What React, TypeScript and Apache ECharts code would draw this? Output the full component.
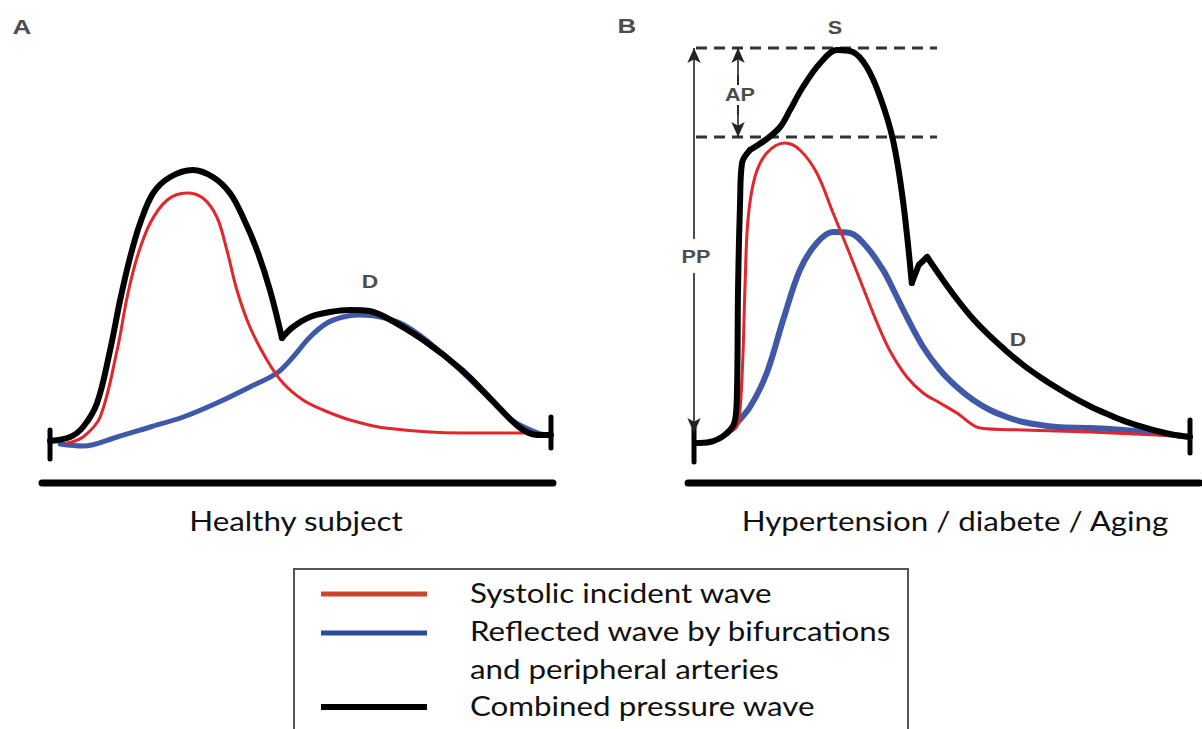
import React, { useEffect, useRef } from "react";
import * as echarts from "echarts";

// x: % of the cardiac cycle, y: pressure (arbitrary units, 0 = diastolic baseline)

// Panel A — healthy subject
const aCombinedSystole: [number, number][] = [
  [0, 1], [4, 2], [6.6, 4.5], [9.4, 10.5], [12, 23.75], [14, 36.25], [16, 47],
  [18, 55.5], [20.6, 63], [24, 67], [28.5, 68.75], [32.5, 67], [35.9, 63], [38.5, 57],
  [41.3, 48.75], [43.9, 38.75], [46.3, 26.75],
];
const aCombinedDiastole: [number, number][] = [
  [46.3, 26.75], [48.5, 29.5], [51.9, 32], [55.9, 33.25], [59.9, 33.75], [63.7, 33.5],
  [66.9, 32], [74.5, 26.25], [82.2, 18.75], [88.2, 11.25], [93.6, 4.5], [97.4, 2.5], [100, 2.5],
];
const aIncident: [number, number][] = [
  [3.5, 0.5], [6.6, 2], [10, 7], [13.4, 23.75], [15.4, 37], [17.4, 47], [20, 55.5],
  [23.4, 61.25], [27.3, 63], [30.5, 61.75], [33.3, 57], [35.3, 48.75], [37.3, 38.75],
  [39.9, 29.5], [43.3, 21.25], [46.5, 15.5], [50.5, 11.25], [54.5, 8.75], [59.9, 6.25],
  [66.9, 4.25], [82.2, 3], [96, 3], [100, 2.5],
];
const aReflected: [number, number][] = [
  [2, 0.25], [6.6, -0.25], [13.4, 2], [20, 4.5], [26.6, 7], [33.3, 10.5], [39.9, 14.5],
  [45.3, 18], [48.5, 22], [51.9, 27], [55.3, 30.5], [58.5, 32], [61.5, 32.5], [64.5, 32.3],
  [70.7, 30], [78.2, 23], [86, 13.75], [92.2, 6.25], [97.4, 3], [100, 2.5],
];
const aEndBars: [number, number][][] = [
  [[0, 3.75], [0, -3.5]],
  [[100, 7], [100, -0.75]],
];
const aBaseline: [number, number][] = [[-1.6, -9.5], [100.4, -9.5]];

// Panel B — hypertension / diabetes / aging
const bCombinedRise: [number, number][] = [
  [0, 0.5], [3, 0.75], [6.5, 3], [8.1, 6.25], [8.5, 14.5], [8.7, 39.5], [9.1, 60.5],
  [9.5, 70.5], [11.1, 73.75],
];
const bCombinedSystole: [number, number][] = [
  [11.1, 73.75], [14.5, 76.5], [17.2, 79.5], [19.2, 83.75], [21.8, 89.5], [25.3, 95.5],
  [28.7, 98.75], [31.9, 98.25], [34.7, 94.5], [37.4, 87], [40, 76.25], [42, 61.25],
  [43.8, 40.5],
];
const bCombinedNotch: [number, number][] = [[43.8, 40.5], [45.2, 45], [46.9, 47]];
const bCombinedDiastole: [number, number][] = [
  [46.9, 47], [49.5, 42.3], [52.9, 36.5], [56.2, 31.5], [59.6, 27.2], [63, 23.4],
  [66.3, 20], [69.7, 17], [73.1, 14.3], [76.4, 11.9], [79.8, 9.7], [83.2, 7.8],
  [86.5, 6.1], [89.9, 4.7], [93.3, 3.5], [96.6, 2.6], [100, 2],
];
const bIncident: [number, number][] = [
  [6.5, 3], [8.4, 4.5], [9.1, 8.75], [9.7, 23], [10.1, 39.5], [10.7, 56.25], [12.1, 67],
  [14.5, 73], [18.2, 75.5], [21.2, 73.75], [24.6, 68], [27.9, 58], [30.7, 49.5],
  [33.9, 39.5], [36.8, 30.5], [39.4, 23.5], [42.8, 17], [46.1, 13], [49.5, 10.5],
  [52.9, 8], [57.6, 4.25], [66.3, 3.75], [79.8, 3.25], [93.3, 2.5], [100, 2],
];
const bReflected: [number, number][] = [
  [6.5, 3], [7.7, 4.5], [11.1, 9.5], [14.5, 18], [17.8, 31.25], [21.2, 43.75],
  [24.6, 50.5], [27.9, 53.25], [31.3, 53], [34.7, 49.5], [38, 43.75], [39.4, 40.5],
  [42.8, 32], [46.1, 24.5], [49.5, 18.75], [52.9, 14.5], [56.2, 11.25], [59.6, 8.75],
  [63, 7], [66.3, 5.75], [73.1, 4.5], [79.8, 4.25], [86.5, 3.75], [93.3, 3], [100, 2],
];
const bEndBars: [number, number][][] = [
  [[-0.2, 4.25], [-0.2, -4.25]],
  [[100, 6.25], [100, -2]],
];
const bBaseline: [number, number][] = [[-1.4, -9.5], [102, -9.5]];
const bSystolicPeak = 99.25;
const bInflection = 77;
const bDashedX: [number, number] = [0.2, 48.9];

const panelTitles = ["Healthy subject", "Hypertension / diabete / Aging"];
const legendLabels = [
  "Systolic incident wave",
  "Reflected wave by bifurcations",
  "and peripheral arteries",
  "Combined pressure wave",
];

const RED = "#e1262c";
const BLUE = "#3f59a8";
const BLACK = "#000000";
const LABEL = "#4d4d4d";

function curve(data: [number, number][], color: string, width: number, idx: number, smooth = 0.35) {
  return {
    type: "line",
    xAxisIndex: idx,
    yAxisIndex: idx,
    data,
    smooth,
    symbol: "none",
    clip: false,
    silent: true,
    lineStyle: { color, width, cap: "round", join: "round" },
  };
}

export default function App() {
  const ref = useRef<HTMLDivElement>(null);
  useEffect(() => {
    if (!ref.current) return;
    const chart = echarts.init(ref.current, null, { renderer: "svg" });
    const lab = (text: string, x: number, y: number, size = 19, sx = 1.2) => ({
      type: "text",
      x,
      y,
      scaleX: sx,
      silent: true,
      style: {
        text,
        fill: LABEL,
        font: `bold ${size}px "Liberation Sans", Arial, sans-serif`,
        align: "center",
        verticalAlign: "middle",
      },
    });
    const big = (text: string, x: number, y: number, align = "center") => ({
      type: "text",
      x,
      y,
      scaleX: 1.16,
      silent: true,
      style: {
        text,
        fill: "#111",
        font: `27px Lato, "Open Sans", sans-serif`,
        align,
        verticalAlign: "middle",
      },
    });
    const legLine = (y: number, color: string, w: number) => ({
      type: "line",
      silent: true,
      shape: { x1: 321, y1: y, x2: 427, y2: y },
      style: { stroke: color, lineWidth: w },
    });
    const arrowLine = (x: number, y1: number, y2: number) => [
      { coord: [x, y1], symbol: "none" },
      { coord: [x, y2], symbol: "arrow", symbolSize: [10, 15] },
    ];
    const dashed = (y: number, markLine: any) => ({
      type: "line",
      xAxisIndex: 1,
      yAxisIndex: 1,
      data: [[bDashedX[0], y], [bDashedX[1], y]],
      symbol: "none",
      clip: false,
      silent: true,
      lineStyle: { color: "#333", width: 3, type: [11, 7] },
      markLine,
    });
    const option = {
      animation: false,
      backgroundColor: "#ffffff",
      grid: [
        { left: 40, width: 521, top: 25, bottom: 236 },
        { left: 685.1, width: 514.8, top: 25, bottom: 236 },
      ],
      xAxis: [0, 1].map((i) => ({
        type: "value",
        gridIndex: i,
        min: -2,
        max: 102,
        show: false,
      })),
      yAxis: [0, 1].map((i) => ({
        type: "value",
        gridIndex: i,
        min: -12,
        max: 105,
        show: false,
      })),
      series: [
        // Panel A
        curve(aBaseline, BLACK, 7, 0, 0),
        ...aEndBars.map((b) => curve(b, BLACK, 5, 0, 0)),
        curve(aReflected, BLUE, 5, 0),
        curve(aIncident, RED, 3, 0),
        curve(aCombinedSystole, BLACK, 6, 0),
        curve(aCombinedDiastole, BLACK, 6, 0),
        // Panel B
        curve(bBaseline, BLACK, 7, 1, 0),
        ...bEndBars.map((b) => curve(b, BLACK, 5, 1, 0)),
        dashed(bSystolicPeak, {
          silent: true,
          animation: false,
          label: { show: false },
          lineStyle: { color: "#222", width: 1.6, type: "solid" },
          data: [
            arrowLine(-0.2, 72, bSystolicPeak),
            arrowLine(-0.2, 30, 3),
            arrowLine(8.7, 90, bSystolicPeak),
            arrowLine(8.7, 85, bInflection),
          ],
        }),
        dashed(bInflection, {
          silent: true,
          animation: false,
          symbol: "none",
          label: { show: false },
          lineStyle: { color: "#222", width: 1.6, type: "solid" },
          data: [
            [{ coord: [-0.2, 72] }, { coord: [-0.2, 51.5] }],
            [{ coord: [-0.2, 43] }, { coord: [-0.2, 30] }],
            [{ coord: [8.7, 90] }, { coord: [8.7, 92.5] }],
            [{ coord: [8.7, 85] }, { coord: [8.7, 82.5] }],
          ],
        }),
        curve(bReflected, BLUE, 6, 1),
        curve(bIncident, RED, 3, 1),
        curve(bCombinedRise, BLACK, 6, 1),
        curve(bCombinedSystole, BLACK, 6, 1),
        curve(bCombinedNotch, BLACK, 6, 1, 0),
        curve(bCombinedDiastole, BLACK, 6, 1),
      ],
      graphic: [
        lab("A", 22, 27, 20, 1.3),
        lab("B", 627, 26, 20, 1.3),
        lab("D", 370, 281),
        lab("S", 835, 28, 18),
        lab("AP", 740, 95, 18),
        lab("PP", 696, 257, 18),
        lab("D", 1018, 339),
        big(panelTitles[0], 296, 520),
        big(panelTitles[1], 955, 520),
        {
          type: "rect",
          silent: true,
          shape: { x: 294, y: 569, width: 614, height: 175 },
          style: { fill: "#fff", stroke: "#555", lineWidth: 2 },
        },
        legLine(594, "#c9452b", 5),
        legLine(633, "#2b4b9b", 5),
        legLine(707, "#000", 6),
        big(legendLabels[0], 470, 592, "left"),
        big(legendLabels[1], 470, 630, "left"),
        big(legendLabels[2], 470, 668, "left"),
        big(legendLabels[3], 470, 705, "left"),
      ],
    };
    chart.setOption(option as any);
    return () => chart.dispose();
  }, []);
  return (
    <div
      ref={ref}
      style={{ position: "fixed", left: 0, top: 0, width: 1202, height: 729, background: "#fff" }}
    />
  );
}
